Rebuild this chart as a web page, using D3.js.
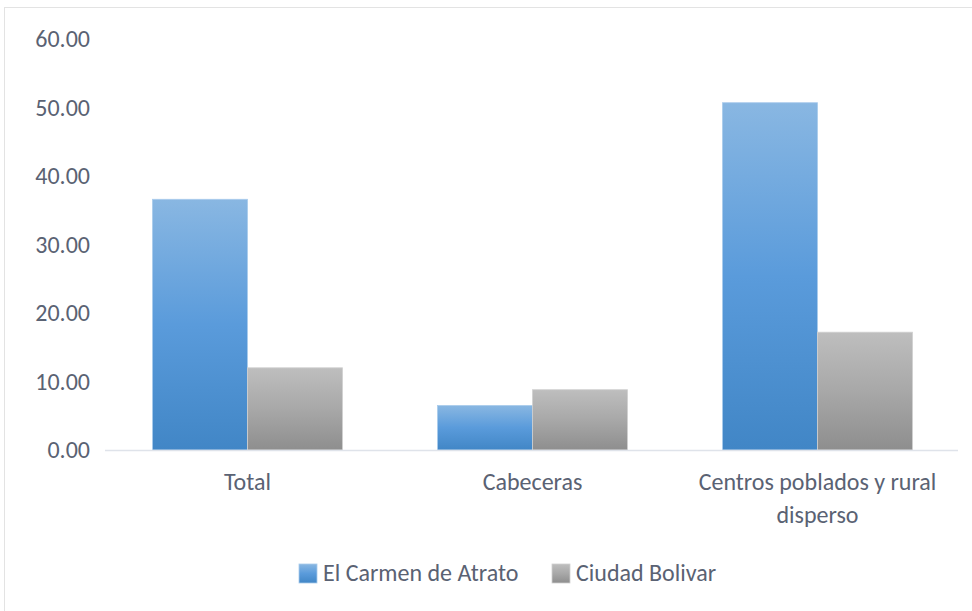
<!DOCTYPE html>
<html>
<head>
<meta charset="utf-8">
<script src="https://cdn.jsdelivr.net/npm/d3@7"></script>
<style>
  body { margin: 0; background: #fff; }
  text { font-family: Carlito, Calibri, Lato, sans-serif; fill: #5a6273; }
</style>
</head>
<body>
<svg id="chart" width="972" height="611"></svg>
<script>
// data
var categories = ["Total", "Cabeceras", "Centros poblados y rural disperso"];
var seriesNames = ["El Carmen de Atrato", "Ciudad Bolivar"];
var carmen = [36.6, 6.5, 50.7];
var bolivar = [12.0, 8.8, 17.2];
var yTicks = [0, 10, 20, 30, 40, 50, 60];

var svg = d3.select("#chart");

// frame
svg.append("rect")
  .attr("x", 4.5).attr("y", 7.5)
  .attr("width", 980).attr("height", 620)
  .attr("fill", "none")
  .attr("stroke", "#e3e3e3");

var mLeft = 105, mRight = 960, mTop = 39, mBottom = 450;
var fontPx = "24px";

var x0 = d3.scaleBand()
  .domain(categories)
  .range([mLeft, mRight])
  .paddingInner(1 / 3)
  .paddingOuter(1 / 6);

var x1 = d3.scaleBand()
  .domain(seriesNames)
  .range([0, x0.bandwidth()]);

var y = d3.scaleLinear()
  .domain([0, 60])
  .range([mBottom, mTop]);

// gradients
var defs = svg.append("defs");
var grads = [
  { id: "gBlue", top: "#89b7e2", mid: "#5a9bdb", bot: "#4186c6" },
  { id: "gGrey", top: "#bebebe", mid: "#a8a8a8", bot: "#8e8e8e" }
];
grads.forEach(function(g) {
  var lg = defs.append("linearGradient")
    .attr("id", g.id)
    .attr("x1", 0).attr("y1", 0).attr("x2", 0).attr("y2", 1);
  lg.append("stop").attr("offset", "0%").attr("stop-color", g.top);
  lg.append("stop").attr("offset", "50%").attr("stop-color", g.mid);
  lg.append("stop").attr("offset", "100%").attr("stop-color", g.bot);
});
var fills = { "El Carmen de Atrato": "url(#gBlue)", "Ciudad Bolivar": "url(#gGrey)" };
var edge = { "El Carmen de Atrato": "#a9cbec", "Ciudad Bolivar": "#d0d0d0" };

// y axis labels (no axis line)
var yAxis = d3.axisLeft(y)
  .tickValues(yTicks)
  .tickSize(0)
  .tickPadding(0)
  .tickFormat(d3.format(".2f"));

var ya = svg.append("g")
  .attr("transform", "translate(90,0)")
  .call(yAxis);
ya.select(".domain").remove();
ya.attr("font-family", null).attr("font-size", null);
ya.selectAll("text")
  .style("font-size", fontPx)
  .attr("fill", "#5a6273");

// bars
var rows = categories.map(function(c, i) {
  return { cat: c, vals: [
    { name: seriesNames[0], v: carmen[i] },
    { name: seriesNames[1], v: bolivar[i] }
  ]};
});

var grp = svg.selectAll(".grp")
  .data(rows)
  .enter().append("g")
  .attr("class", "grp")
  .attr("transform", function(d) { return "translate(" + x0(d.cat) + ",0)"; });

grp.selectAll("rect")
  .data(function(d) { return d.vals; })
  .enter().append("rect")
  .attr("x", function(d) { return x1(d.name); })
  .attr("y", function(d) { return y(d.v); })
  .attr("width", x1.bandwidth())
  .attr("height", function(d) { return y(0) - y(d.v); })
  .attr("fill", function(d) { return fills[d.name]; })
  .attr("stroke", function(d) { return edge[d.name]; })
  .attr("stroke-width", 0.8);

// baseline
svg.append("line")
  .attr("x1", mLeft).attr("x2", mRight - 2)
  .attr("y1", mBottom + 0.5).attr("y2", mBottom + 0.5)
  .attr("stroke", "#dfe3ea")
  .attr("stroke-width", 1.5);

// x axis labels
var xAxis = d3.axisBottom(x0).tickSize(0).tickPadding(0).tickFormat("");
var xa = svg.append("g").attr("transform", "translate(0," + mBottom + ")").call(xAxis);
xa.select(".domain").remove();
xa.attr("font-family", null).attr("font-size", null);

var wrapLines = {
  "Total": ["Total"],
  "Cabeceras": ["Cabeceras"],
  "Centros poblados y rural disperso": ["Centros poblados y rural", "disperso"]
};
xa.selectAll(".tick").each(function(d) {
  var t = d3.select(this).append("text")
    .attr("text-anchor", "middle")
    .attr("fill", "#5a6273")
    .style("font-size", fontPx);
  wrapLines[d].forEach(function(line, i) {
    t.append("tspan")
      .attr("x", 0)
      .attr("y", 40 + i * 33)
      .text(line);
  });
});

// legend
var legend = svg.append("g").attr("transform", "translate(299,573)");
var legX = [0, 253];
seriesNames.forEach(function(name, i) {
  var lg = legend.append("g").attr("transform", "translate(" + legX[i] + ",0)");
  lg.append("rect")
    .attr("x", 0).attr("y", -9)
    .attr("width", 18).attr("height", 19)
    .attr("fill", fills[name])
    .attr("stroke", edge[name]).attr("stroke-width", 0.8);
  lg.append("text")
    .attr("x", 24).attr("y", 0)
    .attr("dy", "0.35em")
    .style("font-size", fontPx)
    .text(name);
});
</script>
</body>
</html>
